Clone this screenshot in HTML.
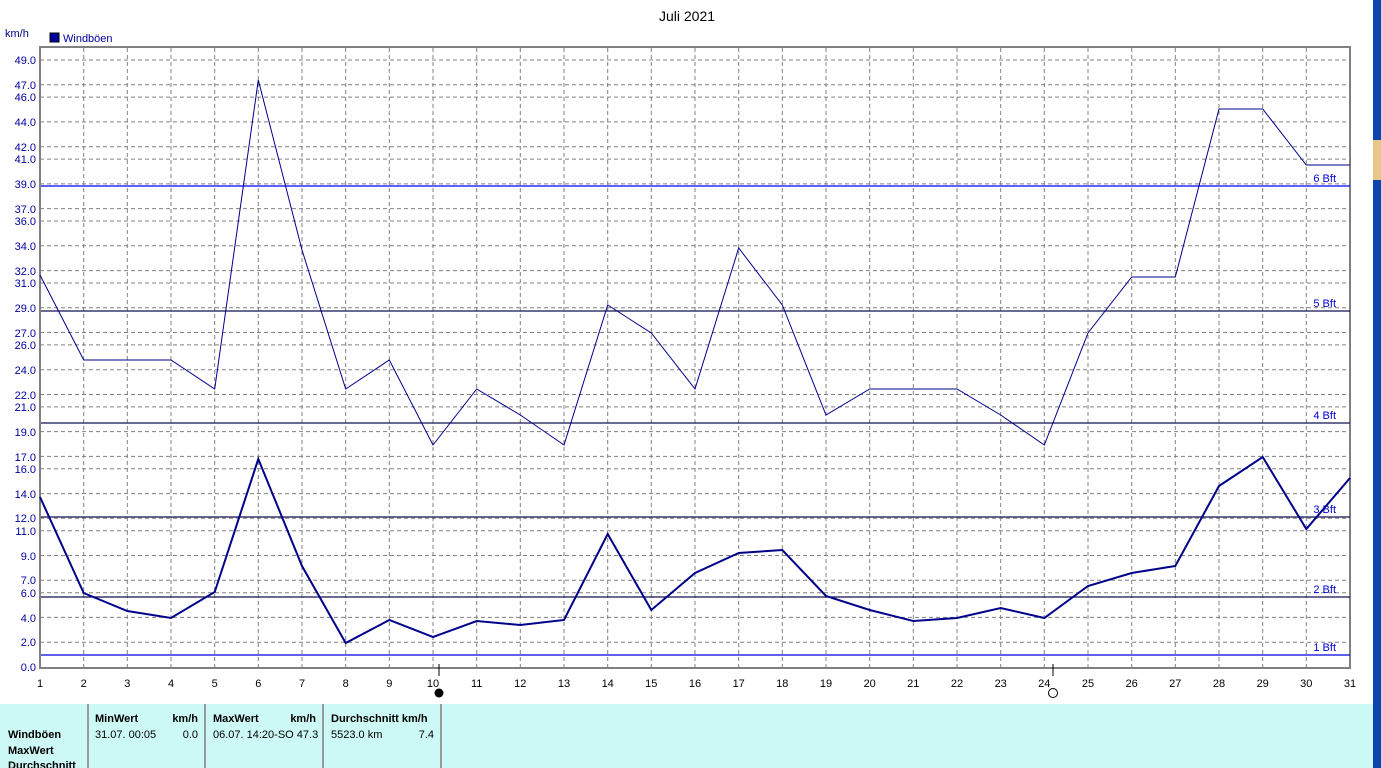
<!DOCTYPE html>
<html><head><meta charset="utf-8"><style>
body{margin:0;width:1381px;height:768px;overflow:hidden;background:#fff;font-family:"Liberation Sans",sans-serif}
svg{position:absolute;left:0;top:0}
</style></head><body>
<svg width="1381" height="768" xmlns="http://www.w3.org/2000/svg" font-family="Liberation Sans, sans-serif">
<rect x="1373" y="0" width="8" height="768" fill="#0a45b0"/>
<rect x="1373" y="140" width="8" height="40" fill="#e8c888"/>
<rect x="0" y="704" width="1373" height="64" fill="#ccf8f6"/>
<text x="687" y="21" font-size="14" text-anchor="middle" fill="#000">Juli 2021</text>
<text x="5" y="37" font-size="11" fill="#000080">km/h</text>
<rect x="50" y="33" width="9" height="9" fill="#0000a0" stroke="#000" stroke-width="1"/>
<text x="63" y="42" font-size="11" fill="#0000a0">Windböen</text>
<g stroke="#808080" stroke-width="1" stroke-dasharray="4,3">
<path d="M40 60H1350M40 84.8H1350M40 97.1H1350M40 121.9H1350M40 146.7H1350M40 159.1H1350M40 183.9H1350M40 208.6H1350M40 221H1350M40 245.8H1350M40 270.6H1350M40 283H1350M40 307.7H1350M40 332.5H1350M40 344.9H1350M40 369.7H1350M40 394.5H1350M40 406.9H1350M40 431.6H1350M40 456.4H1350M40 468.8H1350M40 493.6H1350M40 518.3H1350M40 530.7H1350M40 555.5H1350M40 580.3H1350M40 592.7H1350M40 617.4H1350M40 642.2H1350"/>
<path d="M83.7 48V667M127.3 48V667M171 48V667M214.7 48V667M258.3 48V667M302 48V667M345.7 48V667M389.3 48V667M433 48V667M476.7 48V667M520.3 48V667M564 48V667M607.7 48V667M651.3 48V667M695 48V667M738.7 48V667M782.3 48V667M826 48V667M869.7 48V667M913.3 48V667M957 48V667M1000.7 48V667M1044.3 48V667M1088 48V667M1131.7 48V667M1175.3 48V667M1219 48V667M1262.7 48V667M1306.3 48V667"/>
</g>
<rect x="40" y="47" width="1310" height="621" fill="none" stroke="#808080" stroke-width="2"/>
<g stroke-width="1.2">
<path d="M41 186H1350" stroke="#0000ff"/>
<path d="M41 311H1350M41 423H1350M41 517H1350M41 597H1350" stroke="#101050"/>
<path d="M41 655H1350" stroke="#0000e0"/>
</g>
<g font-size="11" fill="#0000e0" text-anchor="end">
<text x="1336" y="182">6 Bft</text><text x="1336" y="307">5 Bft</text><text x="1336" y="419">4 Bft</text>
<text x="1336" y="513">3 Bft</text><text x="1336" y="593">2 Bft</text><text x="1336" y="651">1 Bft</text>
</g>
<polyline fill="none" stroke="#00008b" stroke-width="1" points="40,275 83.7,360 127.3,360 171,360 214.7,389 258.3,80 302,250 345.7,389 389.3,360 433,445 476.7,389 520.3,415 564,445 607.7,305 651.3,333 695,389 738.7,248 782.3,305 826,415 869.7,389 913.3,389 957,389 1000.7,415 1044.3,445 1088,333 1131.7,277 1175.3,277 1219,109 1262.7,109 1306.3,165 1350,165"/>
<polyline fill="none" stroke="#00008b" stroke-width="2" points="40,497 83.7,593 127.3,611 171,618 214.7,592 258.3,459 302,566 345.7,643 389.3,620 433,637 476.7,621 520.3,625 564,620 607.7,534 651.3,610 695,573 738.7,553 782.3,550 826,596 869.7,610 913.3,621 957,618 1000.7,608 1044.3,618 1088,586 1131.7,573 1175.3,566 1219,486 1262.7,457 1306.3,529 1350,478"/>
<g font-size="11" fill="#0000a0" text-anchor="end">
<text x="36" y="64">49.0</text><text x="36" y="89">47.0</text><text x="36" y="101">46.0</text><text x="36" y="126">44.0</text><text x="36" y="151">42.0</text><text x="36" y="163">41.0</text><text x="36" y="188">39.0</text><text x="36" y="213">37.0</text><text x="36" y="225">36.0</text><text x="36" y="250">34.0</text><text x="36" y="275">32.0</text><text x="36" y="287">31.0</text><text x="36" y="312">29.0</text><text x="36" y="337">27.0</text><text x="36" y="349">26.0</text><text x="36" y="374">24.0</text><text x="36" y="399">22.0</text><text x="36" y="411">21.0</text><text x="36" y="436">19.0</text><text x="36" y="461">17.0</text><text x="36" y="473">16.0</text><text x="36" y="498">14.0</text><text x="36" y="522">12.0</text><text x="36" y="535">11.0</text><text x="36" y="560">9.0</text><text x="36" y="584">7.0</text><text x="36" y="597">6.0</text><text x="36" y="622">4.0</text><text x="36" y="646">2.0</text><text x="36" y="671">0.0</text>
</g>
<g font-size="11" fill="#000" text-anchor="middle">
<text x="40" y="687">1</text><text x="83.7" y="687">2</text><text x="127.3" y="687">3</text><text x="171" y="687">4</text><text x="214.7" y="687">5</text><text x="258.3" y="687">6</text><text x="302" y="687">7</text><text x="345.7" y="687">8</text><text x="389.3" y="687">9</text><text x="433" y="687">10</text><text x="476.7" y="687">11</text><text x="520.3" y="687">12</text><text x="564" y="687">13</text><text x="607.7" y="687">14</text><text x="651.3" y="687">15</text><text x="695" y="687">16</text><text x="738.7" y="687">17</text><text x="782.3" y="687">18</text><text x="826" y="687">19</text><text x="869.7" y="687">20</text><text x="913.3" y="687">21</text><text x="957" y="687">22</text><text x="1000.7" y="687">23</text><text x="1044.3" y="687">24</text><text x="1088" y="687">25</text><text x="1131.7" y="687">26</text><text x="1175.3" y="687">27</text><text x="1219" y="687">28</text><text x="1262.7" y="687">29</text><text x="1306.3" y="687">30</text><text x="1350" y="687">31</text>
</g>
<path d="M439 664V676M1053 664V676" stroke="#000"/>
<circle cx="439" cy="693" r="4.5" fill="#000"/>
<circle cx="1053" cy="693" r="4.5" fill="#fff" stroke="#000"/>
<g stroke="#999" stroke-width="2"><path d="M88 704V768M205 704V768M323 704V768M441 704V768"/></g>
<g font-size="11" fill="#000">
<g font-weight="bold"><text x="8" y="738">Windböen</text><text x="8" y="754">MaxWert</text><text x="8" y="769">Durchschnitt</text>
<text x="95" y="722">MinWert</text><text x="198" y="722" text-anchor="end">km/h</text>
<text x="213" y="722">MaxWert</text><text x="316" y="722" text-anchor="end">km/h</text>
<text x="331" y="722">Durchschnitt km/h</text></g>
<text x="95" y="738">31.07.  00:05</text><text x="198" y="738" text-anchor="end">0.0</text>
<text x="213" y="738">06.07.  14:20-SO 47.3</text>
<text x="331" y="738">5523.0 km</text><text x="434" y="738" text-anchor="end">7.4</text>
</g>
</svg>
</body></html>
